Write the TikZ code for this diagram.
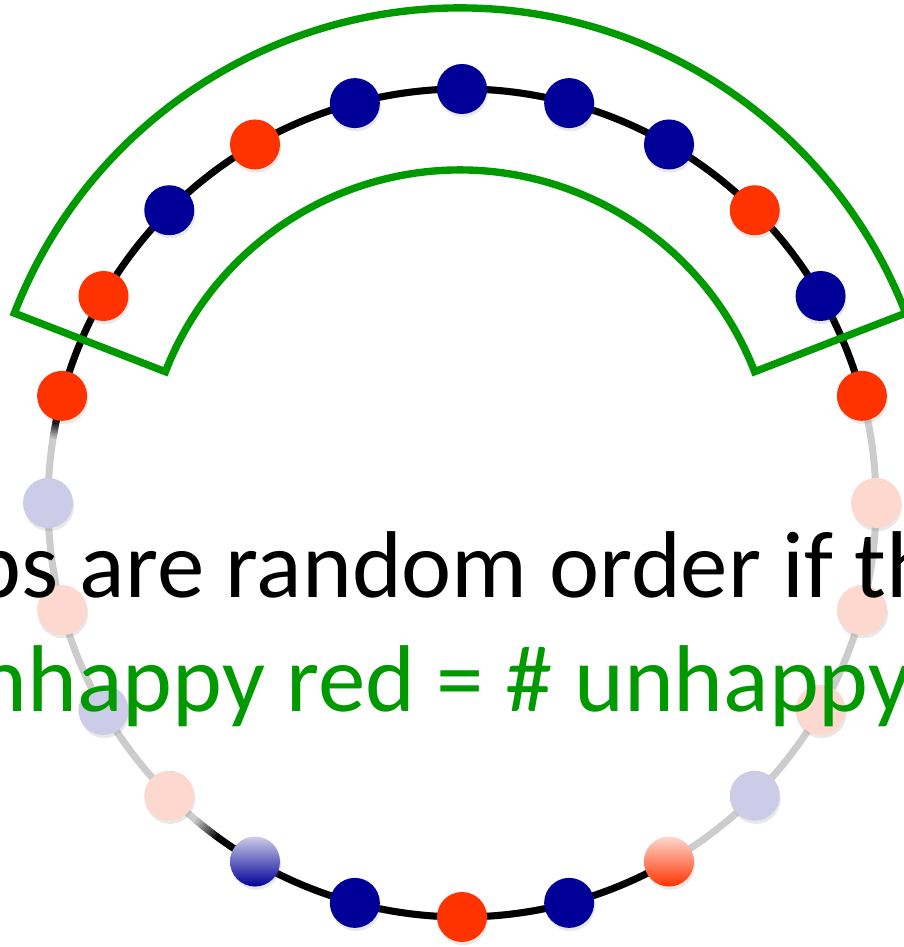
\documentclass[tikz,border=0pt]{standalone}
\usepackage{fontspec}
\setmainfont{Carlito}
\usetikzlibrary{shadows}
\definecolor{dotblue}{HTML}{000099}
\definecolor{dotred}{HTML}{FF3300}
\definecolor{fadeblue}{HTML}{CCCCE8}
\definecolor{fadered}{HTML}{FDD8CE}
\definecolor{ringgray}{HTML}{CCCCCC}
\definecolor{boxgreen}{HTML}{009900}

\begin{document}
\begin{tikzpicture}[
  ring/.style={line width=2pt},
  agent/.style={circle,inner sep=0pt,minimum size=0.5cm,
    drop shadow={opacity=0.18,shadow xshift=0.3pt,shadow yshift=-0.9pt}},
  bigtext/.style={anchor=base west,inner sep=0pt,font=\fontsize{27}{32}\selectfont}]
\useasboundingbox (0,0) rectangle (9.04,9.47);
\clip (0,0) rectangle (9.04,9.47);
\coordinate (O) at (4.62,4.44);
\coordinate (G) at (4.60,4.61);
\draw[ring,ringgray] (O) circle (4.14);
\draw[ring] (O) ++(15:4.14) arc[start angle=15,end angle=168.6,radius=4.14];
\draw[ring] (O) ++(234:4.14) arc[start angle=234,end angle=300,radius=4.14];
\foreach \i in {0,...,9}{
  \pgfmathtruncatemacro\m{100-10*\i}
  \draw[ring,black!\m!ringgray] (O) ++(168.5+0.25*\i:4.14) arc[start angle=168.5+0.25*\i,delta angle=0.3,radius=4.14];
  \draw[ring,black!\m!ringgray] (O) ++(234.1-0.4*\i:4.14) arc[start angle=234.1-0.4*\i,delta angle=-0.45,radius=4.14];
}
\foreach \a/\c in {0/fadered,15/dotred,30/dotblue,45/dotred,60/dotblue,75/dotblue,90/dotblue,105/dotblue,
  120/dotred,135/dotblue,150/dotred,165/dotred,180/fadeblue,195/fadered,210/fadeblue,225/fadered,
  255/dotblue,270/dotred,285/dotblue,315/fadeblue,330/fadered,345/fadered}
  \node[agent,fill=\c] (a\a) at ([shift={(\a:4.14)}]O) {};
\node[agent,top color=fadeblue,middle color=dotblue,bottom color=dotblue] (a240) at ([shift={(240:4.14)}]O) {};
\node[agent,top color=fadered,middle color=dotred,bottom color=dotred] (a300) at ([shift={(300:4.14)}]O) {};
\draw[boxgreen,line width=2.1pt,line join=miter] (G) ++(21.2:3.16) arc[start angle=21.2,end angle=158.8,radius=3.16]
  -- ++(158.8:1.62) arc[start angle=158.8,end angle=21.2,radius=4.78] -- cycle;
\node[bigtext] (line1) at (-0.29,3.49) {ps are random order if th};
\node[bigtext,text=boxgreen] (line2) at (-0.23,2.35) {nhappy red = \# unhappy};
\end{tikzpicture}
\end{document}
